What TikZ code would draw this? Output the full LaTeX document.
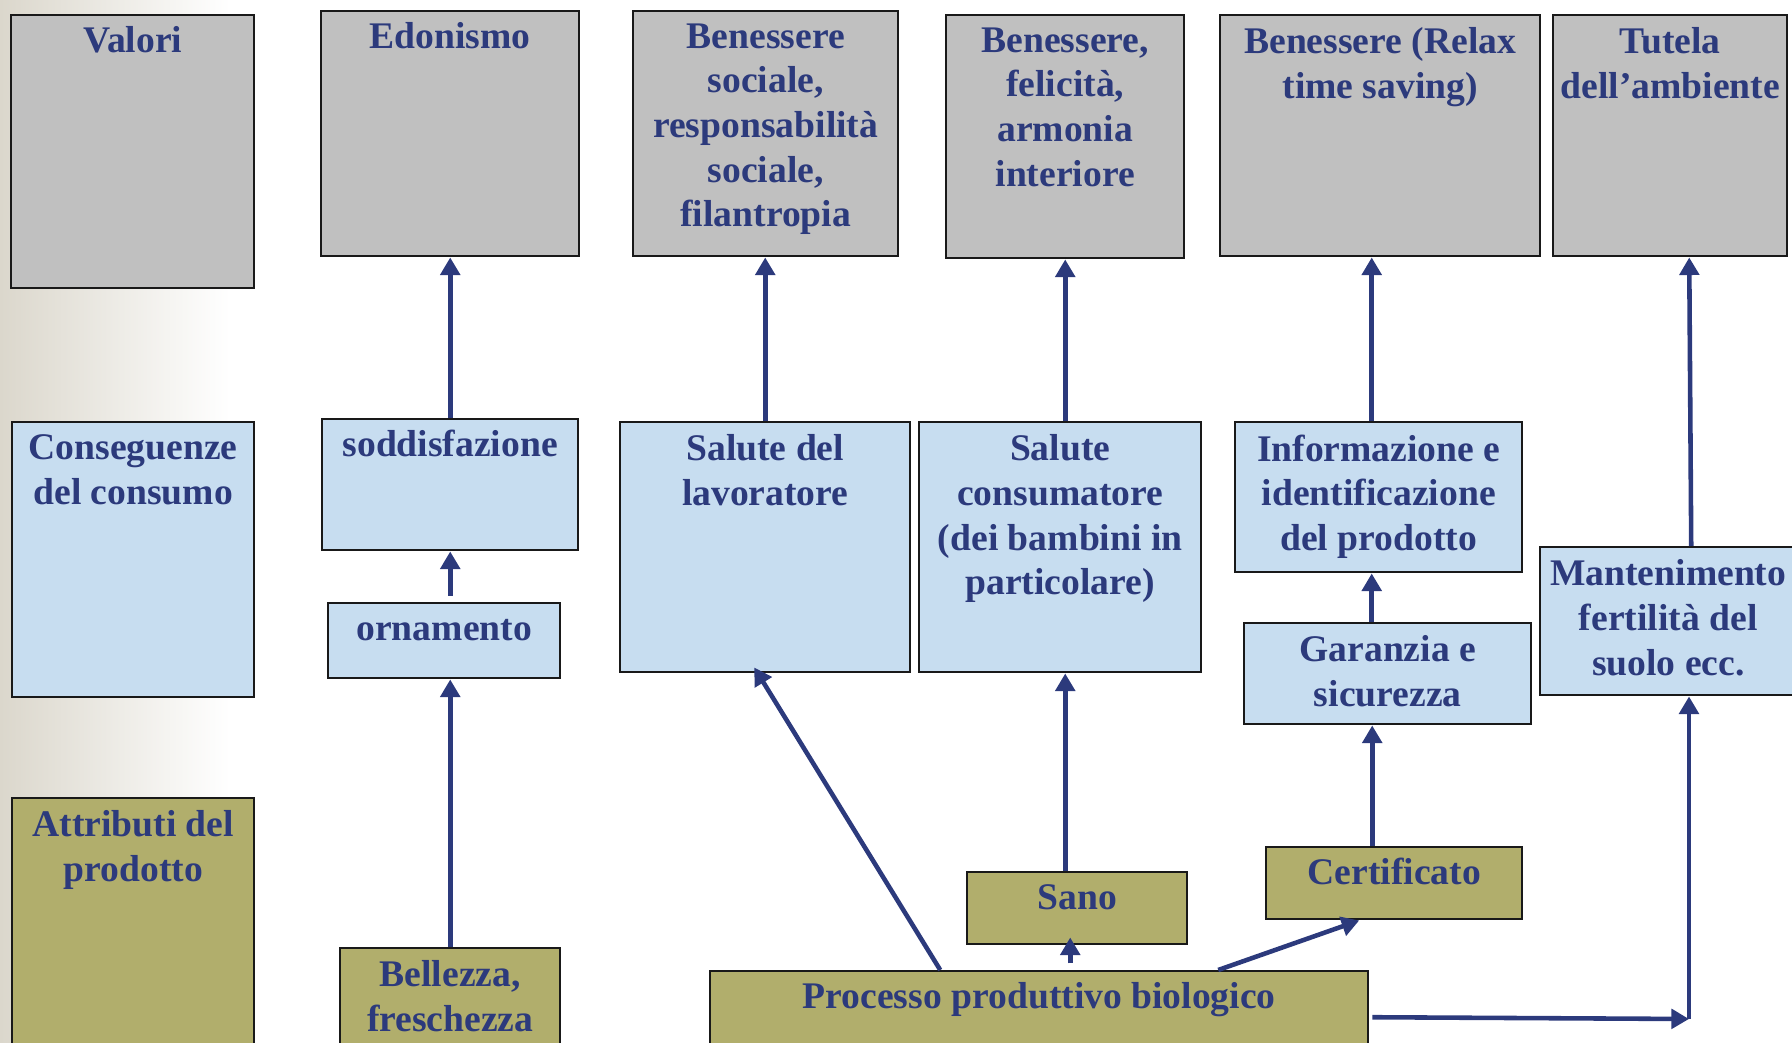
\documentclass[tikz,border=0pt]{standalone}
\usepackage{fontspec}
\setmainfont{Liberation Serif}
\usetikzlibrary{arrows.meta,positioning,calc}
\definecolor{navy}{RGB}{44,58,124}
\definecolor{valgray}{RGB}{192,192,192}
\definecolor{conblue}{RGB}{199,221,240}
\definecolor{attolive}{RGB}{177,174,108}
\definecolor{bgbeige}{RGB}{219,215,204}

\begin{document}
\begin{tikzpicture}[
  box/.style={draw=black!90, line width=0.7pt, anchor=north west, inner sep=0pt},
  val/.style={box, fill=valgray},
  con/.style={box, fill=conblue},
  att/.style={box, fill=attolive},
  lbl/.style={font=\fontsize{10.7}{12.7}\selectfont\bfseries, text=navy, align=center,
    inner sep=0pt, execute at begin node=\strut},
  multi/.style={yshift=-1.9pt},
  arr/.style={navy, line width=1.3pt, -{Triangle[length=5pt,width=5.5pt]}}
]
  % Background shading on the left
  \shade[left color=bgbeige, right color=white] (0,0) rectangle (2.3,-10.43);
  \path[use as bounding box] (0,0) rectangle (17.92,-10.43);

  % Row 1: values
  \node[val, minimum width=2.43cm, minimum height=2.73cm] (valori)   at (0.10,-0.14) {};
  \node[val, minimum width=2.58cm, minimum height=2.45cm] (edonismo) at (3.20,-0.10) {};
  \node[val, minimum width=2.65cm, minimum height=2.45cm] (bensoc)   at (6.32,-0.10) {};
  \node[val, minimum width=2.38cm, minimum height=2.43cm] (benfel)   at (9.45,-0.14) {};
  \node[val, minimum width=3.20cm, minimum height=2.41cm] (benrel)   at (12.19,-0.14) {};
  \node[val, minimum width=2.34cm, minimum height=2.41cm] (tutela)   at (15.52,-0.14) {};

  % Row 2: consequences
  \node[con, minimum width=2.42cm, minimum height=2.75cm] (conseg)  at (0.11,-4.21) {};
  \node[con, minimum width=2.56cm, minimum height=1.31cm] (soddis)  at (3.21,-4.18) {};
  \node[con, minimum width=2.32cm, minimum height=0.75cm] (ornam)   at (3.27,-6.02) {};
  \node[con, minimum width=2.90cm, minimum height=2.50cm] (salav)   at (6.19,-4.21) {};
  \node[con, minimum width=2.82cm, minimum height=2.50cm] (salcons) at (9.18,-4.21) {};
  \node[con, minimum width=2.87cm, minimum height=1.50cm] (inform)  at (12.34,-4.21) {};
  \node[con, minimum width=2.87cm, minimum height=1.01cm] (garanz)  at (12.43,-6.22) {};
  \node[con, minimum width=2.56cm, minimum height=1.48cm] (manten)  at (15.39,-5.46) {};

  % Row 3: attributes
  \node[att, minimum width=2.42cm, minimum height=2.70cm] (attrib)   at (0.11,-7.97) {};
  \node[att, minimum width=2.20cm, minimum height=1.20cm] (bellez)   at (3.39,-9.47) {};
  \node[att, minimum width=2.20cm, minimum height=0.72cm] (sano)     at (9.66,-8.71) {};
  \node[att, minimum width=2.56cm, minimum height=0.72cm] (certif)   at (12.65,-8.46) {};
  \node[att, minimum width=6.58cm, minimum height=0.92cm] (processo) at (7.09,-9.70) {};

  % Texts
  \node[lbl, below=1.8pt of valori.north]          (valoriT)   {Valori};
  \node[lbl, below=1.8pt of edonismo.north]        (edonismoT) {Edonismo};
  \node[lbl, multi, below=1.8pt of bensoc.north]   (bensocT)   {Benessere\\sociale,\\responsabilità\\sociale,\\filantropia};
  \node[lbl, multi, below=1.8pt of benfel.north]   (benfelT)   {Benessere,\\felicità,\\armonia\\interiore};
  \node[lbl, multi, below=1.8pt of benrel.north]   (benrelT)   {Benessere (Relax\\time saving)};
  \node[lbl, multi, below=1.8pt of tutela.north]   (tutelaT)   {Tutela\\dell’ambiente};
  \node[lbl, multi, below=1.8pt of conseg.north]   (consegT)   {Conseguenze\\del consumo};
  \node[lbl, below=1.8pt of soddis.north]          (soddisT)   {soddisfazione};
  \node[lbl, below=1.8pt of ornam.north]           (ornamT)    {ornamento};
  \node[lbl, multi, below=1.8pt of salav.north]    (salavT)    {Salute del\\lavoratore};
  \node[lbl, multi, below=1.8pt of salcons.north]  (salconsT)  {Salute\\consumatore\\(dei bambini in\\particolare)};
  \node[lbl, multi, below=1.8pt of inform.north]   (informT)   {Informazione e\\identificazione\\del prodotto};
  \node[lbl, multi, below=1.8pt of garanz.north]   (garanzT)   {Garanzia e\\sicurezza};
  \node[lbl, multi, below=1.8pt of manten.north]   (mantenT)   {Mantenimento\\fertilità del\\suolo ecc.};
  \node[lbl, multi, below=1.8pt of attrib.north]   (attribT)   {Attributi del\\prodotto};
  \node[lbl, multi, below=1.8pt of bellez.north]   (bellezT)   {Bellezza,\\freschezza};
  \node[lbl, below=1.8pt of sano.north]            (sanoT)     {Sano};
  \node[lbl, below=1.8pt of certif.north]          (certifT)   {Certificato};
  \node[lbl, below=1.8pt of processo.north]        (processoT) {Processo produttivo biologico};

  % Arrows up to the values
  \draw[arr] (soddis.north) -- (soddis.north |- edonismo.south);
  \draw[arr] (salav.north) -- (salav.north |- bensoc.south);
  \draw[arr] (salcons.north -| benfel.south) -- (benfel.south);
  \draw[arr] ([xshift=-0.07cm]inform.north) -- ([xshift=-0.07cm]inform.north |- benrel.south);
  \draw[arr] ([xshift=0.23cm]manten.north) -- ([xshift=0.21cm]manten.north |- tutela.south);

  % Arrows between consequences
  \draw[arr] ([yshift=0.06cm]ornam.north -| soddis.south) -- (soddis.south);
  \draw[arr] ([xshift=-0.07cm]inform.south |- garanz.north) -- ([xshift=-0.07cm]inform.south);

  % Arrows from the attributes
  \draw[arr] (bellez.north) -- (bellez.north |- ornam.south);
  \draw[arr] ([xshift=-0.12cm]sano.north) -- ([xshift=-0.12cm]sano.north |- salcons.south);
  \draw[arr] ([xshift=-0.22cm]certif.north) -- ([xshift=-0.22cm]certif.north |- garanz.south);
  \draw[arr] ([xshift=-0.07cm,yshift=-0.18cm]sano.south) -- ([xshift=-0.07cm,yshift=0.08cm]sano.south);
  \draw[arr] ([xshift=-0.99cm]processo.north) -- ([xshift=-0.11cm,yshift=0.06cm]salav.south);
  \draw[arr] ([xshift=1.79cm]processo.north) -- ([xshift=-0.35cm]certif.south);
  \coordinate (corner) at (16.89,-10.19);
  \draw[arr] ([xshift=0.03cm]processo.east) -- (corner);
  \draw[arr] (corner) -- (corner |- manten.south);
\end{tikzpicture}
\end{document}
